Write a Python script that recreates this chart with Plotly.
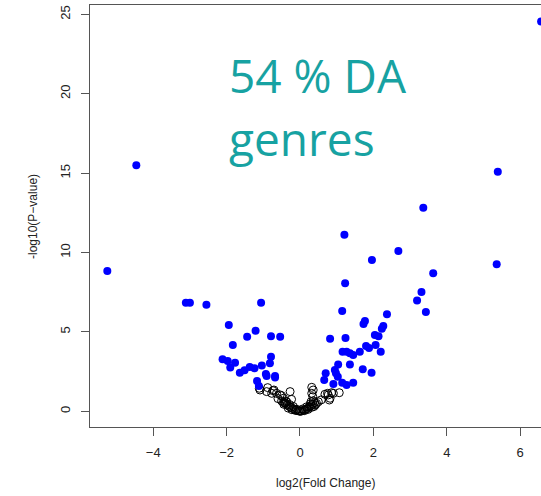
import plotly.graph_objects as go

# significant (blue, filled) genera: log2 fold change, -log10 p-value
sig_fc = [-5.25, -4.46, -3.11, -3.00, -2.55, -1.06, -1.94, -1.21, -1.44, -0.79, -0.54,
          -1.83, -2.11, -1.97, -1.77, -1.90, -0.79, -0.82, -1.04, -1.64, -1.51, -1.37,
          -1.24, -0.93, -0.91, -0.68, -0.68, -1.17, -1.12,
          6.57, 5.39, 3.36, 1.21, 2.68, 1.96, 5.36, 3.63, 1.23, 3.31, 3.19, 3.43, 1.15,
          2.37, 1.77, 1.73, 2.27, 2.23, 0.82, 1.24, 2.04, 2.14, 2.06, 1.80, 1.88, 1.63,
          2.20, 1.16, 1.27, 1.36, 1.45, 1.36, 1.04, 0.95, 0.98, 1.03, 0.70, 0.66, 0.91,
          1.71, 1.95, 1.15, 1.27, 1.45]
sig_p = [8.83, 15.5, 6.84, 6.84, 6.71, 6.84, 5.43, 5.08, 4.70, 4.72, 4.70,
         4.18, 3.27, 3.17, 3.06, 2.75, 3.44, 3.02, 2.89, 2.43, 2.58, 2.79,
         2.71, 2.35, 2.22, 2.22, 2.12, 1.91, 1.59,
         24.55, 15.09, 12.82, 11.12, 10.09, 9.53, 9.26, 8.69, 8.06, 7.51, 6.97, 6.25, 6.32,
         6.11, 5.69, 5.50, 5.37, 5.20, 4.57, 4.62, 4.80, 4.72, 4.18, 4.11, 3.99, 3.75,
         3.75, 3.75, 3.75, 3.65, 3.55, 2.94, 2.94, 2.60, 2.39, 2.18, 2.39, 1.97, 1.72,
         2.64, 2.43, 1.80, 1.66, 1.80]

# non-significant (open black circles)
ns_fc = [-1.11, -1.09, -0.91, -0.88, -0.77, -0.74, -0.71, -0.64, -0.54, -0.50, -0.45,
         -0.41, -0.44, -0.36, -0.27, -0.23,
         0.32, 0.36, 0.32, 0.35, 0.30, 0.68, 0.75, 0.77, 0.82, 0.86, 0.80, 0.91, 1.07,
         -0.40, -0.35, -0.30, -0.25, -0.20, -0.15, -0.10, -0.05, 0.00, 0.05, 0.10, 0.15,
         0.20, 0.25, 0.30, 0.35, 0.40, -0.32, -0.22, -0.12, 0.12, 0.22, 0.32, -0.18,
         0.18, 0.28, 0.36, -0.28, -0.38, 0.02, -0.02, 0.08, -0.08, 0.38, 0.42, 0.45,
         0.50, -0.45, -0.50, -0.60, 0.58]
ns_p = [1.45, 1.34, 1.24, 1.49, 1.13, 1.30, 1.34, 1.13, 1.03, 0.98, 0.82,
        0.54, 0.44, 0.59, 1.24, 0.75,
        1.51, 1.34, 1.13, 0.92, 0.60, 1.07, 1.13, 1.03, 0.82, 1.17, 0.71, 1.13, 1.17,
        0.50, 0.40, 0.32, 0.25, 0.18, 0.12, 0.07, 0.03, 0.01, 0.03, 0.07, 0.12,
        0.18, 0.26, 0.35, 0.45, 0.55, 0.20, 0.10, 0.05, 0.04, 0.12, 0.25, 0.30,
        0.28, 0.45, 0.65, 0.42, 0.62, 0.00, 0.02, 0.15, 0.12, 0.30, 0.40, 0.50,
        0.60, 0.55, 0.65, 0.80, 0.72]

x_ticks = [-4, -2, 0, 2, 4, 6]
y_ticks = [0, 5, 10, 15, 20, 25]
x_title = "log2(Fold Change)"
y_title = "-log10(P\u2212value)"
annot_lines = ["54 % DA", "genres"]

fig = go.Figure()
fig.add_trace(go.Scatter(x=ns_fc, y=ns_p, mode="markers",
                         marker=dict(symbol="circle-open", size=8, color="black",
                                     line=dict(width=1, color="black")),
                         hoverinfo="skip"))
fig.add_trace(go.Scatter(x=sig_fc, y=sig_p, mode="markers",
                         marker=dict(symbol="circle", size=8, color="#0000FF",
                                     line=dict(width=0)),
                         hoverinfo="skip"))

tickfont = dict(family="Liberation Sans, Arial, sans-serif", size=13, color="#222")
titlefont = dict(family="Liberation Sans, Arial, sans-serif", size=12, color="#222")
fig.update_layout(
    width=541, height=496,
    margin=dict(l=90, r=0, t=5, b=69),
    paper_bgcolor="white", plot_bgcolor="white",
    showlegend=False,
    xaxis=dict(range=[-5.722, 6.567], tickvals=x_ticks, showgrid=False, zeroline=False,
               automargin=False,
               showline=True, mirror=True, linecolor="#555", linewidth=1,
               ticks="outside", ticklen=8, tickcolor="#555", tickfont=tickfont,
               ticklabelstandoff=5),
    yaxis=dict(range=[-0.99, 25.59], tickvals=y_ticks, showgrid=False, zeroline=False,
               automargin=False,
               showline=True, mirror=False, linecolor="#555", linewidth=1,
               ticks="outside", ticklen=8, tickcolor="#555", tickfont=tickfont,
               tickangle=-90, ticklabelstandoff=6),
)

fig.add_annotation(text=x_title, xref="paper", yref="paper", x=(325 - 90) / 451,
                   y=(427 - 483) / 422, xanchor="center", yanchor="middle",
                   showarrow=False, font=titlefont)
fig.add_annotation(text=y_title, xref="paper", yref="paper", x=(33 - 90) / 451,
                   y=(427 - 217) / 422, xanchor="center", yanchor="middle",
                   textangle=-90, showarrow=False, font=titlefont)

teal = "#17A2A2"
fig.add_annotation(text=annot_lines[0], xref="paper", yref="paper", x=(227 - 90) / 451,
                   y=(427 - 108) / 422, xanchor="left", yanchor="bottom", showarrow=False,
                   font=dict(family="Open Sans, sans-serif", size=46, color=teal))
fig.add_annotation(text=annot_lines[1], xref="paper", yref="paper", x=(227 - 90) / 451,
                   y=(427 - 171) / 422, xanchor="left", yanchor="bottom", showarrow=False,
                   font=dict(family="Open Sans, sans-serif", size=46, color=teal))

fig.write_html("out.html", config={"displayModeBar": False},
               post_script="document.body.style.margin='0';")
